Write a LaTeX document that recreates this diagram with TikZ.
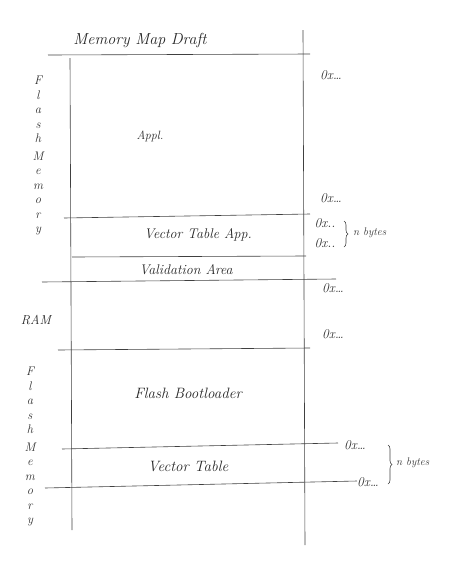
\documentclass[tikz,border=0pt]{standalone}
\usepackage{fontspec}
\usetikzlibrary{decorations.pathreplacing}
\begin{document}
\begin{tikzpicture}[x=1pt,y=-1pt,
  pen/.style={draw=black!75,line width=0.6pt},
  lbl/.style={font=\itshape\fontsize{13}{15}\selectfont,text=black!85},
  addr/.style={font=\itshape\fontsize{13.5}{15}\selectfont,text=black!80,inner sep=1pt},
  vert/.style={font=\itshape\fontsize{12.5}{14.5}\selectfont,text=black!80,align=center},
  small/.style={font=\itshape\fontsize{11}{13}\selectfont},
  brc/.style={pen,decorate,decoration={brace,amplitude=4pt}}]
\useasboundingbox (0,0) rectangle (456,563);
% frame lines
\coordinate (lt) at (70,58);  \coordinate (lb) at (72,530);
\coordinate (rt) at (303,30); \coordinate (rb) at (305,545);
\draw[pen] (lt) -- (lb);
\draw[pen] (rt) -- (rb);
\coordinate (h0a) at (48,55);  \coordinate (h0b) at (310,54);
\coordinate (h1a) at (64,218); \coordinate (h1b) at (310,214);
\coordinate (h2a) at (72,257); \coordinate (h2b) at (306,256);
\coordinate (h3a) at (42,282); \coordinate (h3b) at (336,279);
\coordinate (h4a) at (58,350); \coordinate (h4b) at (310,348);
\coordinate (h5a) at (62,449); \coordinate (h5b) at (338,443);
\coordinate (h6a) at (45,488); \coordinate (h6b) at (357,481);
\foreach \i in {0,...,6} {\draw[pen] (h\i a) -- (h\i b);}
% title
\node[lbl,font=\itshape\fontsize{16}{18}\selectfont] (title) at (140,40) {Memory Map Draft};
% left stacked labels
\node[vert] (fm1) at (38,156) {F\\l\\a\\s\\h\\[3pt]M\\e\\m\\o\\r\\y};
\node[lbl] (ram) at (36,320) {RAM};
\node[vert] (fm2) at (30,447) {F\\l\\a\\s\\h\\[3pt]M\\e\\m\\o\\r\\y};
% region labels
\node[lbl,font=\itshape\fontsize{12}{14}\selectfont] (app) at (150,136) {Appl.};
\node[lbl,font=\itshape\fontsize{14}{16}\selectfont] (vta) at (198,235) {Vector Table App.};
\node[lbl,font=\itshape\fontsize{14}{16}\selectfont] (val) at (186,270) {Validation Area};
\node[lbl,font=\itshape\fontsize{15}{17}\selectfont] (fbl) at (188,393) {Flash Bootloader};
\node[lbl,font=\itshape\fontsize{15}{17}\selectfont] (vt) at (188,466) {Vector Table};
% addresses
\node[addr] (a1) at (331,75) {0x\dots};
\node[addr] (a2) at (331,198) {0x\dots};
\node[addr] (a3) at (325,223) {0x..};
\node[addr] (a4) at (325,243) {0x..};
\node[addr] (a5) at (333,288) {0x\dots};
\node[addr] (a6) at (333,334) {0x\dots};
\node[addr] (a7) at (355,445) {0x\dots};
\node[addr] (a8) at (368,482) {0x\dots};
% braces
\coordinate (b1t) at (344,221); \coordinate (b1b) at (344,247);
\draw[brc] (b1t) -- (b1b);
\node[addr,anchor=west,small] (nb1) at (352,233) {n bytes};
\coordinate (b2t) at (388,445); \coordinate (b2b) at (388,484);
\draw[brc] (b2t) -- (b2b);
\node[addr,anchor=west,small] (nb2) at (395,463) {n bytes};
\end{tikzpicture}
\end{document}
